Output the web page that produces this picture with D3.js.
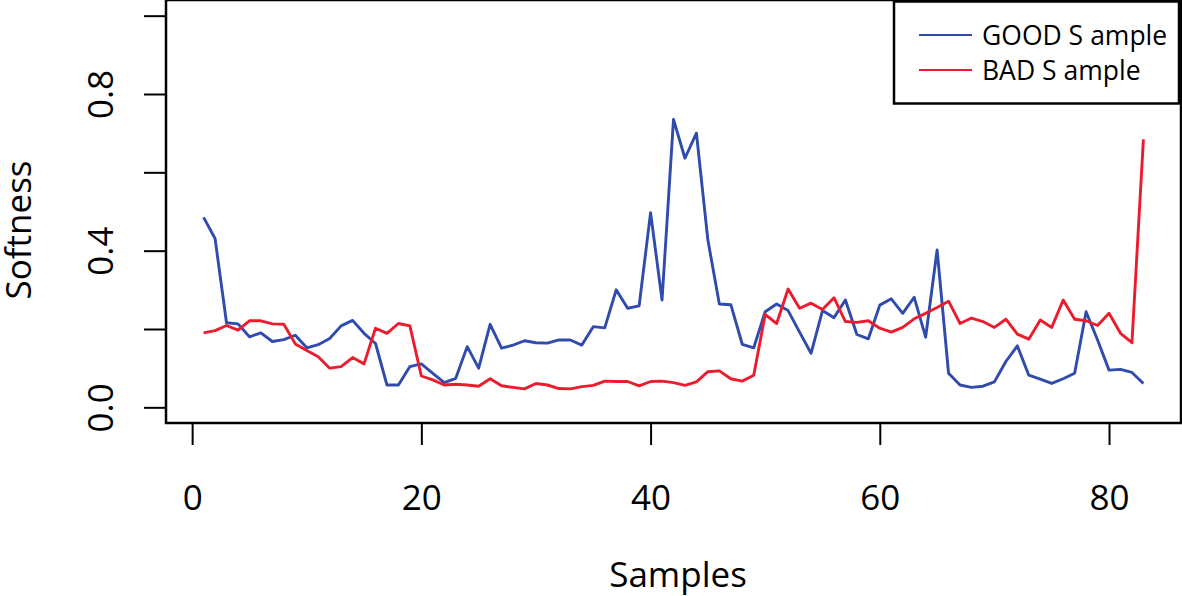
<!DOCTYPE html>
<html>
<head>
<meta charset="utf-8">
<script src="https://cdn.jsdelivr.net/npm/d3@7"></script>
<style>
  body { margin: 0; background: #fff; }
  text { font-family: "Open Sans", sans-serif; fill: #000; }
</style>
</head>
<body>
<svg id="chart"></svg>
<script>
// sample index 1..83
const samples = d3.range(1, 84);

const goodSample = [
  0.485, 0.431, 0.216, 0.213, 0.180, 0.190, 0.168, 0.173, 0.184, 0.152,
  0.160, 0.176, 0.208, 0.222, 0.189, 0.163, 0.057, 0.057, 0.104, 0.111,
  0.087, 0.063, 0.074, 0.155, 0.100, 0.212, 0.151, 0.159, 0.170, 0.165,
  0.164, 0.172, 0.172, 0.159, 0.206, 0.203, 0.300, 0.253, 0.259, 0.497,
  0.274, 0.735, 0.636, 0.700, 0.427, 0.264, 0.262, 0.161, 0.152, 0.244,
  0.264, 0.247, 0.192, 0.138, 0.247, 0.229, 0.274, 0.186, 0.175, 0.261,
  0.277, 0.240, 0.281, 0.179, 0.402, 0.087, 0.057, 0.051, 0.054, 0.065,
  0.117, 0.157, 0.082, 0.072, 0.061, 0.073, 0.087, 0.244, 0.172, 0.095,
  0.097, 0.089, 0.061
];

const badSample = [
  0.190, 0.196, 0.209, 0.197, 0.221, 0.221, 0.213, 0.212, 0.162, 0.145,
  0.129, 0.100, 0.104, 0.127, 0.111, 0.202, 0.189, 0.214, 0.208, 0.080,
  0.070, 0.057, 0.059, 0.057, 0.054, 0.073, 0.055, 0.051, 0.047, 0.061,
  0.057, 0.048, 0.047, 0.053, 0.056, 0.067, 0.066, 0.066, 0.055, 0.066,
  0.067, 0.063, 0.056, 0.065, 0.091, 0.093, 0.073, 0.067, 0.082, 0.237,
  0.214, 0.302, 0.253, 0.266, 0.250, 0.280, 0.219, 0.217, 0.221, 0.202,
  0.192, 0.204, 0.226, 0.240, 0.255, 0.271, 0.214, 0.228, 0.219, 0.204,
  0.225, 0.187, 0.174, 0.223, 0.204, 0.274, 0.225, 0.221, 0.209, 0.240,
  0.189, 0.165, 0.684
];

const xTicks = [0, 20, 40, 60, 80];
const yTicks = [0, 0.2, 0.4, 0.6, 0.8, 1.0];
const yLabels = [0, 0.4, 0.8];   // R drops the crowded ones

const seriesNames = ["GOOD Sample", "BAD Sample"];
const seriesColors = ["#2f4bad", "#ec1c2e"];

const width = 1182, height = 596;
const plot = {left: 166, right: 1181, top: 0, bottom: 423};

const svg = d3.select("#chart")
    .attr("width", width)
    .attr("height", height);

// R style: 4% padding on each side of the data range
const xScale = d3.scaleLinear()
    .domain([1 - 82 * 0.04, 83 + 82 * 0.04])
    .range([plot.left, plot.right]);

const yScale = d3.scaleLinear()
    .domain([-0.04, 1.04])
    .range([plot.bottom, plot.top]);

const line = d3.line()
    .x((d, i) => xScale(samples[i]))
    .y(d => yScale(d));

[goodSample, badSample].forEach((vals, k) => {
    svg.append("path")
        .datum(vals)
        .attr("fill", "none")
        .attr("stroke", seriesColors[k])
        .attr("stroke-width", 2.9)
        .attr("stroke-linejoin", "round")
        .attr("d", line);
});

// axes
const xAxis = d3.axisBottom(xScale)
    .tickValues(xTicks)
    .tickSize(22)
    .tickSizeOuter(0)
    .tickFormat(d3.format("d"));

const xAxisG = svg.append("g")
    .attr("transform", `translate(0,${plot.bottom})`)
    .call(xAxis);
xAxisG.select(".domain").remove();
xAxisG.selectAll("line").attr("stroke", "#000").attr("stroke-width", 2);
xAxisG.selectAll("text")
    .attr("y", 87)
    .attr("dy", 0)
    .style("font-size", "35px")
    .style("font-family", "'Open Sans', sans-serif");

const yAxis = d3.axisLeft(yScale)
    .tickValues(yTicks)
    .tickSize(22)
    .tickSizeOuter(0)
    .tickFormat(d => yLabels.includes(d) ? d3.format(".1f")(d) : "");

const yAxisG = svg.append("g")
    .attr("transform", `translate(${plot.left},0)`)
    .call(yAxis);
yAxisG.select(".domain").remove();
yAxisG.selectAll("line").attr("stroke", "#000").attr("stroke-width", 2);
yAxisG.selectAll("text")
    .attr("x", 0)
    .attr("y", 0)
    .attr("dy", 0)
    .attr("transform", "translate(-53,0) rotate(-90)")
    .attr("text-anchor", "middle")
    .style("font-size", "35px")
    .style("font-family", "'Open Sans', sans-serif");

// frame
svg.append("rect")
    .attr("x", plot.left)
    .attr("y", plot.top)
    .attr("width", plot.right - plot.left)
    .attr("height", plot.bottom - plot.top)
    .attr("fill", "none")
    .attr("stroke", "#000")
    .attr("stroke-width", 2.5);

// axis titles
svg.append("text")
    .attr("x", 678)
    .attr("y", 587)
    .attr("text-anchor", "middle")
    .style("font-size", "35px")
    .text("Samples");

svg.append("text")
    .attr("transform", "translate(31,230) rotate(-90)")
    .attr("text-anchor", "middle")
    .style("font-size", "35px")
    .text("Softness");

// legend
const legend = svg.append("g");
legend.append("rect")
    .attr("x", 894)
    .attr("y", 1.5)
    .attr("width", 285)
    .attr("height", 102)
    .attr("fill", "#fff")
    .attr("stroke", "#000")
    .attr("stroke-width", 2.5);

seriesNames.forEach((name, i) => {
    const ly = 35 + i * 35;
    legend.append("line")
        .attr("x1", 919).attr("x2", 972)
        .attr("y1", ly).attr("y2", ly)
        .attr("stroke", seriesColors[i])
        .attr("stroke-width", 2);
    // the reference shows a gap after the "S"
    const parts = name.split("S");
    const txt = legend.append("text")
        .attr("x", 982)
        .attr("y", ly + 10)
        .style("font-size", "26.5px");
    txt.append("tspan").text(parts[0] + "S");
    txt.append("tspan").attr("dx", 7).text(parts[1]);
});
</script>
</body>
</html>
